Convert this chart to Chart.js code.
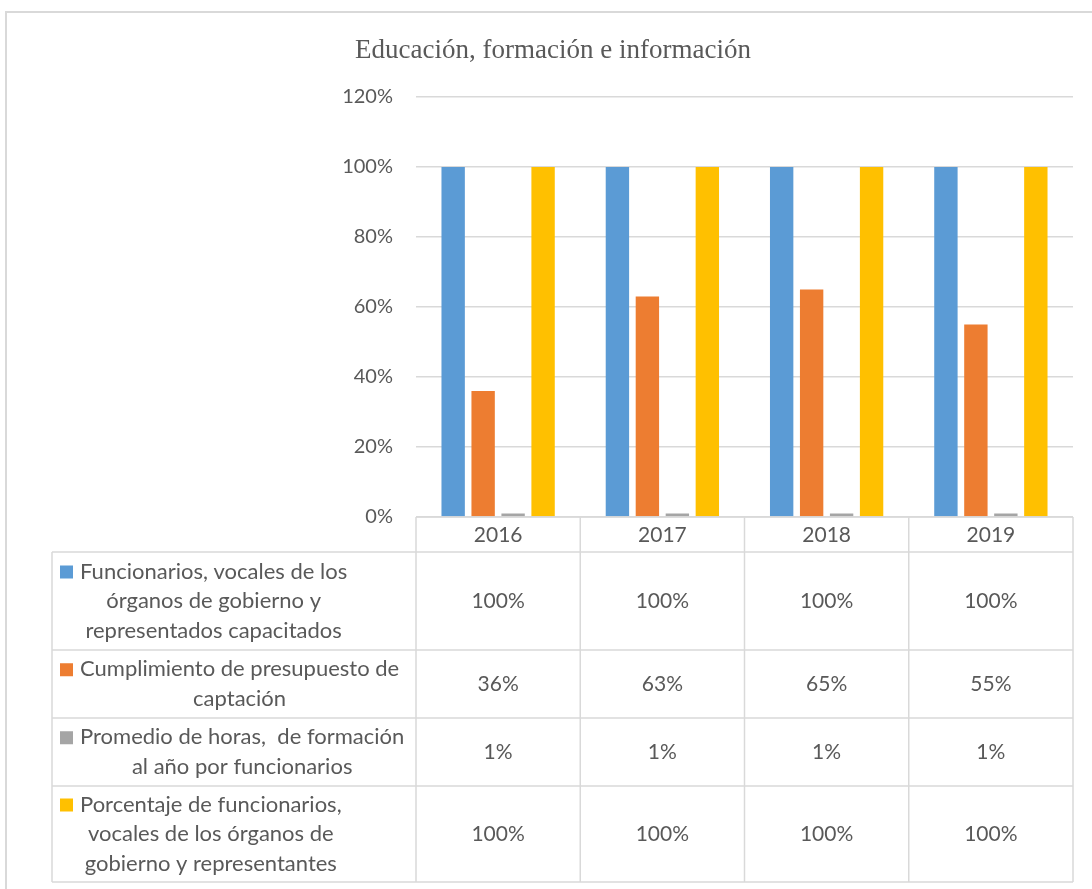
<!DOCTYPE html>
<html>
<head>
<meta charset="utf-8">
<script src="https://cdn.jsdelivr.net/npm/chart.js@4.4.1/dist/chart.umd.min.js"></script>
<style>
  html, body { margin: 0; padding: 0; background: #ffffff; }
  #wrap { position: relative; width: 1092px; height: 889px; }
</style>
</head>
<body>
<div id="wrap"><canvas id="c" width="1092" height="889"></canvas></div>
<script>
// ---- data ----
const chartTitle = 'Educación, formación e información';
const categories = ['2016', '2017', '2018', '2019'];
const seriesLabels = [
  ['Funcionarios, vocales de los', 'órganos de gobierno y', 'representados capacitados'],
  ['Cumplimiento de presupuesto de', 'captación'],
  ['Promedio de horas,  de formación', 'al año por funcionarios'],
  ['Porcentaje de funcionarios,', 'vocales de los órganos de', 'gobierno y representantes']
];
const funcionariosCapacitados = [100, 100, 100, 100];
const cumplimientoPresupuesto = [36, 63, 65, 55];
const promedioHoras = [1, 1, 1, 1];
const porcentajeFuncionarios = [100, 100, 100, 100];
const yTickValues = [0, 20, 40, 60, 80, 100, 120];
const seriesColors = ['#5B9BD5', '#ED7D31', '#A5A5A5', '#FFC000'];

const seriesValues = [funcionariosCapacitados, cumplimientoPresupuesto, promedioHoras, porcentajeFuncionarios];

const TEXT = '#595959';
const LINE = '#d9d9d9';
const FONT = 'Lato';

const tablePlugin = {
  id: 'dataTable',
  afterDraw(chart) {
    const ctx = chart.ctx;
    const xs = chart.scales.x;
    const area = chart.chartArea;
    const n = categories.length;
    const colW = (area.right - area.left) / n;
    const edges = categories.map((c, i) => xs.getPixelForValue(i) - colW / 2);
    edges.push(area.right);
    const top = area.bottom;
    const headerBottom = top + 35;
    const rowEdges = [headerBottom, headerBottom + 98, headerBottom + 166, headerBottom + 234, headerBottom + 330];
    const tableLeft = 52;
    const tableBottom = rowEdges[rowEdges.length - 1];

    ctx.save();
    // title
    ctx.fillStyle = TEXT;
    ctx.font = '27px "Liberation Serif"';
    ctx.textAlign = 'center';
    ctx.textBaseline = 'middle';
    ctx.fillText(chartTitle, 553, 51);

    // outer frame
    ctx.strokeStyle = LINE;
    ctx.lineWidth = 2;
    ctx.beginPath();
    ctx.moveTo(6, 889); ctx.lineTo(6, 12); ctx.lineTo(1092, 12);
    ctx.stroke();

    // table lines
    ctx.lineWidth = 1.5;
    ctx.beginPath();
    ctx.moveTo(area.left, top); ctx.lineTo(area.right, top);
    rowEdges.forEach(y => { ctx.moveTo(tableLeft, y); ctx.lineTo(area.right, y); });
    ctx.moveTo(tableLeft, headerBottom); ctx.lineTo(tableLeft, tableBottom);
    edges.forEach(x => { ctx.moveTo(x, top); ctx.lineTo(x, tableBottom); });
    ctx.stroke();

    ctx.fillStyle = TEXT;
    ctx.font = '21px ' + FONT;
    ctx.textBaseline = 'middle';
    ctx.textAlign = 'center';
    // header
    categories.forEach((c, i) => {
      ctx.fillText(c, xs.getPixelForValue(i), (top + headerBottom) / 2 + 1);
    });
    // rows
    const lh = 29.5;
    seriesLabels.forEach((lines, r) => {
      const y0 = rowEdges[r], y1 = rowEdges[r + 1];
      const cy = (y0 + y1) / 2;
      const textLeft = 80;
      ctx.font = '22px ' + FONT;
      const maxW = Math.max(...lines.map(l => ctx.measureText(l).width));
      const firstY = cy - (lines.length - 1) * lh / 2;
      ctx.textAlign = 'center';
      lines.forEach((l, k) => {
        ctx.fillStyle = TEXT;
        ctx.fillText(l, textLeft + maxW / 2, firstY + k * lh);
      });
      // swatch
      const w0 = ctx.measureText(lines[0]).width;
      const sx = textLeft + maxW / 2 - w0 / 2 - 20;
      ctx.fillStyle = seriesColors[r];
      ctx.fillRect(sx, firstY - 6, 13, 13);
      // values
      ctx.font = '21px ' + FONT;
      ctx.fillStyle = TEXT;
      seriesValues[r].forEach((v, i) => {
        ctx.fillText(v + '%', xs.getPixelForValue(i), cy);
      });
    });
    ctx.restore();
  }
};

new Chart(document.getElementById('c'), {
  type: 'bar',
  data: {
    labels: categories,
    datasets: seriesValues.map((vals, i) => ({
      label: seriesLabels[i].join(' '),
      data: vals,
      backgroundColor: seriesColors[i],
      borderWidth: 0,
      barPercentage: 0.78,
      categoryPercentage: 0.73
    }))
  },
  options: {
    responsive: false,
    animation: false,
    layout: { padding: { left: 0, right: 19, top: 97, bottom: 372 } },
    plugins: {
      legend: { display: false },
      tooltip: { enabled: false },
      title: { display: false }
    },
    scales: {
      x: { display: false },
      y: {
        min: 0,
        max: 120,
        afterBuildTicks(scale) { scale.ticks = yTickValues.map(v => ({ value: v })); },
        afterFit(scale) { scale.width = 416; },
        border: { display: false },
        grid: { color: LINE, lineWidth: 1.5, drawTicks: false },
        ticks: {
          color: TEXT,
          font: { family: FONT, size: 20 },
          padding: 23,
          callback: v => v + '%'
        }
      }
    }
  },
  plugins: [tablePlugin]
});
</script>
</body>
</html>
